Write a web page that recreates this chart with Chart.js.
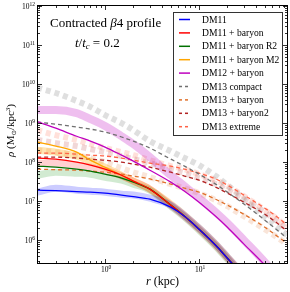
<!DOCTYPE html>
<html><head><meta charset="utf-8">
<script src="https://cdn.jsdelivr.net/npm/chart.js@4.4.0/dist/chart.umd.min.js"></script>
<style>html,body{margin:0;padding:0;background:#fff}#c{display:block}</style>
</head><body>
<canvas id="c" width="290" height="292"></canvas>
<script>
// ---------- data ----------
const radii = [0.19,0.3,0.5,0.7,1,1.5,2,3,5,7,10,15,20,30,50,70,86];
const yTickValues = [1e6,1e7,1e8,1e9,1e10,1e11,1e12];
const xTickValues = [1,10];
const legendLabels = ['DM11','DM11 + baryon','DM11 + baryon R2','DM11 + baryon M2','DM12 + baryon','DM13 compact','DM13 + baryon','DM13 + baryon2','DM13 extreme'];

// analytic profiles
const dm11        = [1.91e7,1.85e7,1.75e7,1.7e7,1.6e7,1.43e7,1.3e7,1.12e7,7.0e6,4.1e6,1.91e6,7.4e5,3.45e5,1.19e5,2.9e4,1.0e4,4.9e3];
const dm11Baryon  = [1.27e8,1.19e8,1.0e8,8.4e7,6.6e7,4.6e7,3.26e7,2.03e7,7.9e6,4.1e6,1.91e6,7.4e5,3.45e5,1.19e5,2.9e4,1.0e4,4.9e3];
const dm11R2      = [7.9e7,7.4e7,6.6e7,5.9e7,4.9e7,3.9e7,3.07e7,2.03e7,7.9e6,4.1e6,1.91e6,7.4e5,3.45e5,1.19e5,2.9e4,1.0e4,4.9e3];
const dm11M2      = [3.26e8,2.57e8,1.8e8,1.12e8,7.4e7,4.6e7,3.26e7,2.03e7,7.9e6,4.1e6,1.91e6,7.4e5,3.45e5,1.19e5,2.9e4,1.0e4,4.9e3];
const dm12Baryon  = [1.09e9,7.4e8,4.6e8,3.45e8,2.43e8,1.51e8,1.06e8,6.2e7,3.07e7,1.8e7,9.4e6,4.1e6,2.15e6,7.9e5,2.29e5,8.9e4,4.9e4];
const dm13Compact = [1.06e9,9.4e8,7.9e8,7.0e8,5.9e8,4.4e8,3.45e8,2.29e8,1.19e8,7.9e7,4.9e7,2.73e7,1.7e7,8.4e6,3.26e6,1.7e6,1.12e6];
const dm13Baryon  = [6.6e7,6.4e7,6.2e7,5.9e7,5.5e7,4.9e7,4.4e7,3.7e7,2.73e7,2.15e7,1.7e7,1.12e7,7.9e6,4.6e6,2.15e6,1.19e6,8.4e5];
const dm13Baryon2 = [1.34e8,1.34e8,1.27e8,1.19e8,1.12e8,1.0e8,8.9e7,7.4e7,5.5e7,4.4e7,3.45e7,2.29e7,1.6e7,9.4e6,4.6e6,2.57e6,1.7e6];
const dm13Extreme = [1.7e8,1.7e8,1.6e8,1.51e8,1.43e8,1.27e8,1.12e8,9.4e7,7.9e7,6.6e7,5.2e7,3.7e7,2.57e7,1.43e7,6.6e6,3.7e6,2.43e6];

// simulation profiles (thick translucent)
const simDm11        = [1.7e7,2.15e7,1.91e7,1.8e7,1.7e7,1.51e7,1.43e7,1.19e7,7.9e6,4.3e6,2.03e6,7.9e5,3.7e5,1.27e5,3.07e4,1.06e4,5.2e3];
const simDm11Baryon  = [9.4e7,9.4e7,8.4e7,7.4e7,6.2e7,4.4e7,3.26e7,2.03e7,7.9e6,4.1e6,1.91e6,7.4e5,3.45e5,1.19e5,2.9e4,1.0e4,4.9e3];
const simDm11R2      = [4.6e7,5.5e7,5.2e7,4.9e7,4.1e7,3.45e7,2.73e7,1.91e7,7.4e6,3.9e6,1.8e6,7.0e5,3.26e5,1.1e5,2.7e4,9.5e3,4.6e3];
const simDm11M2      = [2.03e8,1.8e8,1.43e8,1.06e8,7.4e7,4.6e7,3.26e7,2.03e7,8.4e6,4.4e6,2.03e6,7.9e5,3.7e5,1.27e5,3.07e4,1.06e4,5.2e3];
const simDm12Baryon  = [2.15e9,2.15e9,1.8e9,1.27e9,8.4e8,4.6e8,2.9e8,1.34e8,4.6e7,2.43e7,1.19e7,5.2e6,2.73e6,1.0e6,2.73e5,1.06e5,5.9e4];
const simDm13Compact = [8.1e9,5.9e9,3.7e9,2.6e9,1.6e9,1.0e9,6.6e8,3.45e8,1.9e8,1.27e8,8.4e7,4.4e7,2.57e7,1.12e7,3.9e6,2.03e6,1.34e6];
const simDm13Baryon  = [2.03e8,1.8e8,1.51e8,1.27e8,1.0e8,7.0e7,5.5e7,4.1e7,2.73e7,2.15e7,1.6e7,1.06e7,7.4e6,4.1e6,1.91e6,1.12e6,7.9e5];
const simDm13Baryon2 = [3.7e8,3.07e8,2.57e8,2.15e8,1.8e8,1.43e8,1.19e8,9.4e7,6.6e7,5.2e7,3.9e7,2.73e7,1.91e7,1.12e7,5.2e6,2.9e6,1.91e6];
const simDm13Extreme = [6.6e8,4.9e8,3.7e8,2.9e8,2.29e8,1.8e8,1.51e8,1.12e8,7.9e7,6.6e7,4.9e7,3.45e7,2.43e7,1.34e7,5.9e6,3.26e6,2.15e6];

// ---------- build ----------
const pts = v => radii.map((r,i)=>({x:r,y:v[i]}));
const SERIF = "'Liberation Serif','DejaVu Serif',serif";

function line(label, vals, color, dash){
  return {label, data:pts(vals), borderColor:color, borderWidth:1.3, borderDash:dash||[], fill:false,
          pointRadius:0, cubicInterpolationMode:'monotone', clip:0};
}
function sim(vals, color, dash, w){
  return {label:'', sim:true, data:pts(vals), borderColor:color, borderWidth:w||7, borderDash:dash||[], fill:false,
          pointRadius:0, cubicInterpolationMode:'monotone', clip:0, borderCapStyle:'butt'};
}
const analytic = [
  line(legendLabels[0], dm11, '#0000ff'),
  line(legendLabels[1], dm11Baryon, '#ff0000'),
  line(legendLabels[2], dm11R2, '#007000'),
  line(legendLabels[3], dm11M2, '#ffa500'),
  line(legendLabels[4], dm12Baryon, '#bf00bf'),
  line(legendLabels[5], dm13Compact, '#707070', [4,3]),
  line(legendLabels[6], dm13Baryon, '#e0702a', [4,3]),
  line(legendLabels[7], dm13Baryon2, '#b22222', [4,3]),
  line(legendLabels[8], dm13Extreme, '#ff6347', [4,3]),
];
const sims = [
  sim(simDm11, 'rgba(0,0,255,0.2)'),
  sim(simDm11Baryon, 'rgba(255,0,0,0.18)'),
  sim(simDm11R2, 'rgba(0,140,0,0.18)'),
  sim(simDm11M2, 'rgba(255,165,0,0.3)'),
  sim(simDm12Baryon, 'rgba(191,0,191,0.25)', [], 8),
  sim(simDm13Compact, 'rgba(140,140,140,0.28)', [5,4], 6),
  sim(simDm13Baryon, 'rgba(224,112,42,0.18)', [5,4], 6),
  sim(simDm13Baryon2, 'rgba(178,34,34,0.18)', [5,4], 6),
  sim(simDm13Extreme, 'rgba(255,99,71,0.2)', [5,4], 6),
];

function rich(ctx, segs, x, y, align){
  let w = 0;
  segs.forEach(s=>{ctx.font=s[1]; w+=ctx.measureText(s[0]).width;});
  let cx = align==='center' ? x-w/2 : (align==='right' ? x-w : x);
  segs.forEach(s=>{ctx.font=s[1]; ctx.fillText(s[0], cx, y+(s[2]||0)); cx+=ctx.measureText(s[0]).width;});
  return w;
}
function expLabel(v){ return String(Math.round(Math.log10(v))).replace('-','−'); }

const decor = {
  id:'decor',
  afterDatasetsDraw(chart){
    const {ctx, chartArea:a, scales:{x, y}} = chart;
    ctx.save();
    ctx.fillStyle='#000'; ctx.strokeStyle='#000'; ctx.textAlign='left'; ctx.textBaseline='alphabetic';
    // frame
    ctx.lineWidth=1;
    ctx.strokeRect(a.left-0.5, a.top-0.5, a.right-a.left+1, a.bottom-a.top+1);
    // ticks
    ctx.lineWidth=0.8;
    ctx.beginPath();
    for(let e=-2; e<=12; e++){
      for(let k=1;k<=9;k++){
        const v=k*Math.pow(10,e), L = k===1?4:2;
        if(v>=y.min && v<=y.max){
          const py=Math.round(y.getPixelForValue(v))+0.5;
          ctx.moveTo(a.left, py); ctx.lineTo(a.left+L, py);
          ctx.moveTo(a.right, py); ctx.lineTo(a.right-L, py);
        }
        if(v>=x.min && v<=x.max){
          const px=Math.round(x.getPixelForValue(v))+0.5;
          ctx.moveTo(px, a.bottom); ctx.lineTo(px, a.bottom-L);
          ctx.moveTo(px, a.top); ctx.lineTo(px, a.top+L);
        }
      }
    }
    ctx.stroke();
    // tick labels
    const f10 = "7.5px "+SERIF, fe = "5.5px "+SERIF;
    yTickValues.forEach(v=>{
      const py=y.getPixelForValue(v);
      rich(ctx, [['10',f10],[expLabel(v),fe,-3]], a.left-3, py+2.5, 'right');
    });
    xTickValues.forEach(v=>{
      const px=x.getPixelForValue(v);
      rich(ctx, [['10',f10],[expLabel(v),fe,-3]], px+1, a.bottom+8.5, 'center');
    });
    // axis titles
    rich(ctx, [['r',"italic 12px "+SERIF],[' (kpc)',"12px "+SERIF]], (a.left+a.right)/2, 285, 'center');
    ctx.save();
    ctx.translate(14, (a.top+a.bottom)/2 - 4);
    ctx.rotate(-Math.PI/2);
    rich(ctx, [['ρ',"italic 11px "+SERIF],[' (M',"11px "+SERIF],['⊙',"6.5px 'DejaVu Sans',sans-serif",2],['/kpc',"11px "+SERIF],['3',"7px "+SERIF,-4],[')',"11px "+SERIF]], 0, 0, 'center');
    ctx.restore();
    // annotation
    rich(ctx, [['Contracted ',"13px "+SERIF],['β',"italic 13px "+SERIF],['4 profile',"13px "+SERIF]], 50, 27, 'left');
    rich(ctx, [['t',"italic 13px "+SERIF],['/',"13px "+SERIF],['t',"italic 13px "+SERIF],['c',"italic 8.5px "+SERIF,2],[' = 0.2',"13px "+SERIF]], 75, 47, 'left');
    // legend
    const lx=173, ly=12, lw=109, lh=123;
    ctx.fillStyle='#fff'; ctx.fillRect(lx, ly, lw, lh);
    ctx.strokeStyle='#333'; ctx.lineWidth=1; ctx.strokeRect(lx+0.5, ly+0.5, lw, lh);
    const items = chart.data.datasets.filter(d=>!d.sim);
    items.forEach((d,i)=>{
      const ry = 19.5 + i*13.4;
      ctx.strokeStyle=d.borderColor; ctx.lineWidth=1.5;
      ctx.setLineDash(d.borderDash.length? [3,3]:[]);
      ctx.beginPath(); ctx.moveTo(179, ry); ctx.lineTo(190, ry); ctx.stroke();
      ctx.setLineDash([]);
      ctx.fillStyle='#000'; ctx.font="9.6px "+SERIF;
      ctx.fillText(d.label, 202, ry+3);
    });
    ctx.restore();
  }
};

new Chart(document.getElementById('c'), {
  type:'line',
  data:{datasets:[...analytic, ...sims]},
  options:{
    responsive:false, animation:false, devicePixelRatio:1,
    layout:{padding:{left:0,right:3,top:6,bottom:0}},
    plugins:{legend:{display:false}, tooltip:{enabled:false}},
    scales:{
      x:{type:'logarithmic', min:0.194, max:86, grid:{display:false}, border:{display:false},
         ticks:{display:false}, afterBuildTicks:s=>{s.ticks=xTickValues.map(v=>({value:v}));}, afterFit:s=>{s.height=29;}},
      y:{type:'logarithmic', min:2.6e5, max:1e12, grid:{display:false}, border:{display:false},
         ticks:{display:false}, afterBuildTicks:s=>{s.ticks=yTickValues.map(v=>({value:v}));}, afterFit:s=>{s.width=38;}}
    }
  },
  plugins:[decor]
});
</script>
</body></html>
